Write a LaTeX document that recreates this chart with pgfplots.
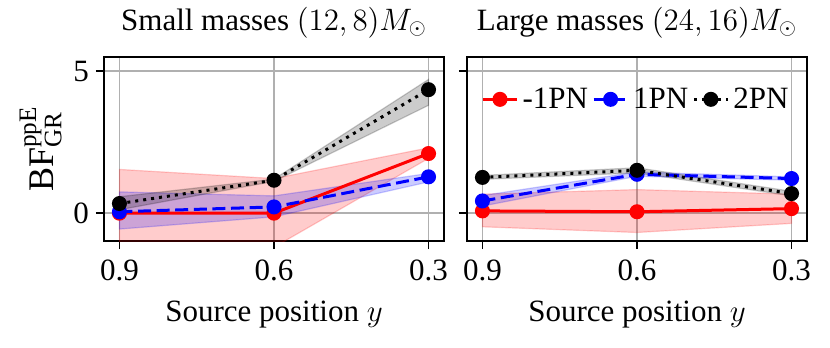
\RequirePackage{fix-cm}
\documentclass[border=0pt]{standalone}
\usepackage{fontspec}
\setmainfont{Liberation Serif}
\usepackage{pgfplots}
\pgfplotsset{compat=1.18}

\definecolor{gridgray}{HTML}{B0B0B0}

\pgfplotsset{
  panel/.style={
    scale only axis, width=170pt, height=92pt,
    xmin=0.27, xmax=0.93, x dir=reverse,
    ymin=-0.98, ymax=5.5,
    xtick={0.9,0.6,0.3}, xticklabels={0.9,0.6,0.3},
    ytick={0,5},
    grid=major, major grid style={color=gridgray, line width=0.8pt},
    tick align=outside, tick pos=left, major tick length=4pt,
    tick style={black, line width=0.8pt},
    axis line style={line width=0.9pt},
    ticklabel style={font=\fontsize{15.5}{18}\selectfont},
    xticklabel style={yshift=-2pt},
    label style={font=\fontsize{15.5}{18}\selectfont},
    xlabel style={yshift=-3pt},
    title style={font=\fontsize{15.5}{18}\selectfont, yshift=0pt},
    xlabel={Source position $y$},
    /pgf/number format/assume math mode=true,
  },
  band/.style={fill=#1, fill opacity=0.2, draw=#1, draw opacity=0.2, line width=0.6pt, forget plot},
  red line/.style={red, line width=1.5pt, mark=*, mark size=3pt, mark options={solid}},
  blue line/.style={blue, line width=1.5pt, dash pattern=on 6.5pt off 2.8pt, mark=*, mark size=3pt, mark options={solid}},
  black line/.style={black, line width=1.5pt, dash pattern=on 1.5pt off 2.5pt, mark=*, mark size=3pt, mark options={solid}},
}

\begin{document}
\begin{tikzpicture}
\useasboundingbox (-52pt,-53.5pt) rectangle (363pt,120.5pt);

% small masses
\begin{axis}[panel, at={(0pt,0pt)},
    title={Small masses $(12,8)M_\odot$},
    ylabel={$\mathrm{BF}^{\mathrm{ppE}}_{\mathrm{GR}}$},
    ylabel style={font=\fontsize{18}{20}\selectfont, yshift=-1pt}]
\addplot[band=red] coordinates {(0.9,1.54)(0.6,1.22)(0.3,2.30)(0.3,1.93)(0.6,-1.2)(0.9,-1.5)} -- cycle;
\addplot[band=blue] coordinates {(0.9,0.75)(0.6,0.61)(0.3,1.40)(0.3,1.10)(0.6,-0.13)(0.9,-0.56)} -- cycle;
\addplot[band=black] coordinates {(0.9,0.58)(0.6,1.20)(0.3,4.71)(0.3,3.80)(0.6,1.12)(0.9,0.12)} -- cycle;
\addplot[red line] coordinates {(0.9,0.0)(0.6,0.0)(0.3,2.10)};
\addplot[blue line] coordinates {(0.9,0.05)(0.6,0.22)(0.3,1.28)};
\addplot[black line] coordinates {(0.9,0.34)(0.6,1.16)(0.3,4.35)};
\end{axis}

% large masses
\begin{axis}[panel, at={(181.5pt,0pt)},
    title={Large masses $(24,16)M_\odot$},
    yticklabels={},
    legend columns=3,
    legend style={draw=none, fill=none, at={(0.5,0.77)}, anchor=center,
      font=\fontsize{15.5}{18}\selectfont, inner sep=0pt,
      /tikz/every even column/.append style={column sep=0pt}},
    legend cell align=left]
\addplot[band=red] coordinates {(0.9,0.67)(0.6,0.83)(0.3,0.67)(0.3,-0.36)(0.6,-0.68)(0.9,-0.48)} -- cycle;
\addplot[band=blue] coordinates {(0.9,0.62)(0.6,1.45)(0.3,1.28)(0.3,1.16)(0.6,1.30)(0.9,0.25)} -- cycle;
\addplot[band=black] coordinates {(0.9,1.33)(0.6,1.60)(0.3,0.77)(0.3,0.61)(0.6,1.42)(0.9,1.19)} -- cycle;
\addplot[red line] coordinates {(0.9,0.08)(0.6,0.05)(0.3,0.16)};
\addlegendentry{-1PN}
\addplot[blue line] coordinates {(0.9,0.43)(0.6,1.37)(0.3,1.22)};
\addlegendentry{1PN}
\addplot[black line] coordinates {(0.9,1.26)(0.6,1.51)(0.3,0.69)};
\addlegendentry{2PN}
\end{axis}
\end{tikzpicture}
\end{document}
